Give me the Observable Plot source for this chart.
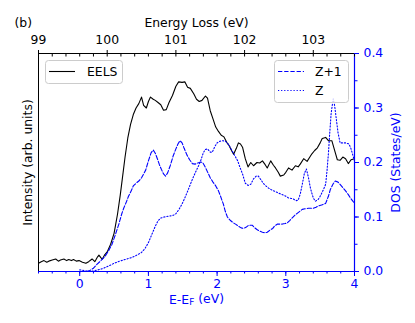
<!DOCTYPE html>
<html><head><meta charset="utf-8">
<script src="https://cdn.jsdelivr.net/npm/d3@7"></script>
<script src="https://cdn.jsdelivr.net/npm/@observablehq/plot@0.6"></script>
<style>body{margin:0;background:#fff}</style>
</head><body><div id="chart"></div>
<script>
// ---- data ----
const eelsE = [-0.60,-0.56,-0.52,-0.48,-0.45,-0.40,-0.35,-0.31,-0.28,-0.23,-0.19,-0.16,-0.12,-0.09,-0.05,-0.01,0.04,0.09,0.13,0.18,0.22,0.26,0.28,0.31,0.33,0.36,0.40,0.45,0.50,0.55,0.59,0.62,0.66,0.70,0.74,0.78,0.82,0.86,0.90,0.93,0.97,1.00,1.03,1.07,1.10,1.14,1.18,1.22,1.26,1.30,1.35,1.40,1.44,1.49,1.53,1.57,1.61,1.66,1.70,1.74,1.78,1.83,1.86,1.90,1.94,1.98,2.02,2.06,2.10,2.14,2.17,2.21,2.24,2.28,2.31,2.34,2.37,2.41,2.45,2.49,2.53,2.58,2.62,2.66,2.70,2.73,2.78,2.82,2.85,2.89,2.92,2.97,3.00,3.04,3.09,3.14,3.18,3.21,3.26,3.31,3.35,3.38,3.42,3.46,3.50,3.53,3.58,3.62,3.67,3.72,3.75,3.79,3.83,3.87,3.91,3.95,4.00];
const eelsI = [0.015,0.018,0.020,0.017,0.019,0.021,0.023,0.019,0.021,0.023,0.020,0.022,0.020,0.022,0.019,0.020,0.017,0.015,0.018,0.023,0.018,0.027,0.030,0.025,0.023,0.030,0.036,0.050,0.070,0.105,0.140,0.170,0.210,0.245,0.270,0.288,0.300,0.308,0.320,0.305,0.300,0.312,0.320,0.316,0.314,0.310,0.306,0.296,0.297,0.310,0.323,0.340,0.348,0.347,0.348,0.338,0.336,0.326,0.316,0.312,0.314,0.322,0.318,0.295,0.280,0.265,0.257,0.250,0.247,0.237,0.232,0.222,0.215,0.226,0.236,0.234,0.228,0.207,0.192,0.200,0.194,0.200,0.199,0.203,0.196,0.190,0.203,0.195,0.190,0.182,0.175,0.177,0.182,0.190,0.186,0.194,0.192,0.197,0.207,0.202,0.210,0.216,0.222,0.227,0.236,0.244,0.246,0.240,0.240,0.218,0.205,0.204,0.210,0.207,0.198,0.205,0.207];

const zp1E = [0.10,0.15,0.20,0.25,0.30,0.37,0.42,0.47,0.52,0.57,0.61,0.64,0.68,0.71,0.75,0.78,0.82,0.86,0.90,0.93,0.96,1.00,1.04,1.07,1.10,1.13,1.16,1.19,1.22,1.25,1.28,1.32,1.36,1.40,1.43,1.46,1.49,1.52,1.56,1.60,1.64,1.68,1.72,1.76,1.79,1.83,1.87,1.90,1.94,1.98,2.02,2.05,2.09,2.12,2.15,2.19,2.24,2.28,2.31,2.35,2.38,2.42,2.46,2.51,2.55,2.58,2.62,2.66,2.70,2.73,2.77,2.81,2.84,2.88,2.92,2.95,2.99,3.02,3.06,3.09,3.13,3.17,3.21,3.24,3.28,3.33,3.37,3.40,3.44,3.47,3.52,3.58,3.62,3.65,3.69,3.72,3.76,3.79,3.83,3.87,3.91,3.94,3.97,4.00];
const zp1D = [0.000,0.002,0.006,0.013,0.019,0.028,0.038,0.050,0.068,0.087,0.105,0.116,0.128,0.138,0.148,0.157,0.162,0.166,0.172,0.179,0.186,0.203,0.218,0.223,0.217,0.207,0.196,0.187,0.179,0.175,0.181,0.195,0.212,0.225,0.234,0.240,0.236,0.226,0.214,0.205,0.198,0.197,0.199,0.201,0.200,0.191,0.180,0.172,0.164,0.157,0.148,0.138,0.124,0.110,0.100,0.094,0.089,0.086,0.083,0.080,0.079,0.081,0.085,0.085,0.080,0.077,0.074,0.072,0.071,0.072,0.076,0.079,0.084,0.087,0.087,0.087,0.088,0.089,0.094,0.098,0.103,0.107,0.111,0.114,0.115,0.116,0.116,0.116,0.118,0.120,0.122,0.125,0.138,0.151,0.161,0.166,0.164,0.160,0.154,0.148,0.141,0.135,0.130,0.125];

const zE = [0.00,0.10,0.20,0.30,0.35,0.42,0.50,0.58,0.66,0.74,0.80,0.86,0.90,0.95,1.00,1.05,1.10,1.14,1.18,1.23,1.27,1.32,1.36,1.40,1.45,1.49,1.53,1.58,1.62,1.66,1.70,1.73,1.76,1.80,1.83,1.86,1.90,1.93,1.97,2.00,2.04,2.08,2.12,2.15,2.19,2.22,2.26,2.30,2.33,2.37,2.41,2.45,2.49,2.53,2.57,2.60,2.64,2.67,2.71,2.75,2.79,2.82,2.86,2.89,2.93,2.97,3.00,3.04,3.08,3.11,3.15,3.18,3.21,3.24,3.27,3.30,3.33,3.36,3.40,3.43,3.47,3.50,3.54,3.58,3.60,3.62,3.64,3.66,3.69,3.71,3.73,3.76,3.79,3.83,3.87,3.92,3.95,3.97,4.00];
const zD = [0.003,0.001,0.001,0.004,0.006,0.010,0.015,0.019,0.022,0.025,0.028,0.032,0.035,0.042,0.053,0.068,0.083,0.093,0.098,0.100,0.101,0.102,0.103,0.106,0.115,0.124,0.135,0.150,0.163,0.175,0.186,0.194,0.203,0.218,0.224,0.225,0.219,0.219,0.230,0.236,0.239,0.240,0.239,0.236,0.228,0.221,0.212,0.203,0.192,0.179,0.162,0.158,0.160,0.170,0.175,0.175,0.168,0.162,0.157,0.153,0.150,0.148,0.146,0.144,0.142,0.140,0.138,0.135,0.134,0.133,0.130,0.131,0.142,0.160,0.180,0.188,0.172,0.152,0.135,0.129,0.132,0.138,0.148,0.160,0.185,0.216,0.255,0.290,0.317,0.305,0.285,0.255,0.236,0.236,0.236,0.234,0.225,0.216,0.203];

const xTickLabels = [0, 1, 2, 3, 4];
const lossTickLabels = [99, 100, 101, 102, 103];
const lossOffset = 99.6;          // Energy Loss = E-EF + 99.6
const dosTickLabels = [0.0, 0.1, 0.2, 0.3, 0.4];
const seriesNames = ["EELS", "Z+1", "Z"];

// ---- tables ----
const eels = eelsE.map((e, i) => ({E: e, v: eelsI[i]}));
const zp1 = zp1E.map((e, i) => ({E: e, v: zp1D[i]}));
const zz = zE.map((e, i) => ({E: e, v: zD[i]}));
const minorX = d3.range(-0.6, 4.0001, 0.2);
const minorY = d3.range(0, 0.4001, 0.05);

const BLUE = "#0000ff";
const FS = 12.4;
const FONT = "'DejaVu Sans', sans-serif";
const chart = Plot.plot({
  width: 415, height: 323,
  marginLeft: 38, marginRight: 61, marginTop: 53, marginBottom: 52,
  style: {fontFamily: FONT, fontSize: FS + "px", background: "white"},
  x: {domain: [-0.6, 4], label: null, axis: null},
  y: {domain: [0, 0.4], label: null, axis: null},
  marks: [
    Plot.line(eels, {x: "E", y: "v", stroke: "black", strokeWidth: 1.1}),
    Plot.line(zp1, {x: "E", y: "v", stroke: BLUE, strokeWidth: 1.1, strokeDasharray: "4.3,1.9"}),
    Plot.line(zz, {x: "E", y: "v", stroke: BLUE, strokeWidth: 1.1, strokeDasharray: "1.2,1.9"}),
    // spines
    Plot.ruleY([0.4], {stroke: "black", strokeWidth: 1}),
    Plot.ruleX([-0.6], {stroke: "black", strokeWidth: 1}),
    Plot.ruleY([0], {stroke: BLUE, strokeWidth: 1}),
    Plot.ruleX([4], {stroke: BLUE, strokeWidth: 1.2}),
    // bottom axis
    Plot.axisX(xTickLabels, {anchor: "bottom", tickSize: 5, tickPadding: 3, color: BLUE, label: null, fontSize: FS, tickFormat: d => String(d)}),
    Plot.axisX(minorX, {anchor: "bottom", tickSize: 2.5, color: BLUE, label: null, tickFormat: () => ""}),
    // top axis (energy loss)
    Plot.axisX(lossTickLabels.map(v => v - lossOffset), {anchor: "top", tickSize: 4, tickPadding: 6, color: "black", label: null, fontSize: FS, tickFormat: d => String(Math.round(d + lossOffset))}),
    Plot.axisX(minorX, {anchor: "top", tickSize: -2.5, color: "black", label: null, tickFormat: () => ""}),
    // right axis (DOS)
    Plot.axisY(dosTickLabels, {anchor: "right", tickSize: 4, tickPadding: 5, color: BLUE, label: null, fontSize: FS, tickFormat: d3.format(".1f")}),
    Plot.axisY(minorY, {anchor: "right", tickSize: 2.5, color: BLUE, label: null, tickFormat: () => ""}),
    // labels
    Plot.text(["Intensity (arb. units)"], {text: d => d, frameAnchor: "left", dx: -10, rotate: -90, textAnchor: "middle", lineAnchor: "middle", fill: "black", fontSize: FS}),
    Plot.text(["DOS (States/eV)"], {text: d => d, frameAnchor: "right", dx: 42, rotate: -90, textAnchor: "middle", lineAnchor: "middle", fill: BLUE, fontSize: FS}),
    Plot.text(["Energy Loss (eV)"], {text: d => d, frameAnchor: "top", dy: -27, textAnchor: "middle", lineAnchor: "bottom", fill: "black", fontSize: FS}),
    Plot.text(["(b)"], {text: d => d, frameAnchor: "top-left", dx: -24, dy: -27, textAnchor: "start", lineAnchor: "bottom", fill: "black", fontSize: FS}),
    Plot.text(["E-EF (eV)"], {text: d => d, frameAnchor: "bottom", dy: 32, textAnchor: "middle", lineAnchor: "bottom", fill: BLUE, fontSize: FS})
  ]
});
document.getElementById("chart").appendChild(chart);

// subscript F in the x label
const svg = d3.select(chart);
svg.selectAll("text").filter(function() { return this.textContent === "E-EF (eV)"; }).each(function() {
  const t = d3.select(this);
  t.text(null);
  t.append("tspan").text("E-E");
  t.append("tspan").attr("font-size", "72%").attr("dy", "0.22em").text("F");
  t.append("tspan").attr("dy", "-0.22em").text(" (eV)");
});

// legends
function legend(x, y, w, h, rows) {
  const g = svg.append("g").attr("font-family", FONT).attr("font-size", FS + "px").attr("text-anchor", "start");
  g.append("rect").attr("x", x + 0.5).attr("y", y + 0.5).attr("width", w).attr("height", h)
    .attr("rx", 3).attr("fill", "white").attr("fill-opacity", 0.8).attr("stroke", "#cccccc").attr("stroke-width", 1);
  rows.forEach((r, i) => {
    const ly = y + 11.5 + i * 19;
    g.append("line").attr("x1", x + 4).attr("x2", x + 30).attr("y1", ly).attr("y2", ly)
      .attr("stroke", r.color).attr("stroke-width", 1.1).attr("stroke-dasharray", r.dash || null);
    g.append("text").attr("x", x + r.tx).attr("y", ly + 4.5).attr("fill", "black").attr("text-anchor", "start").text(r.name);
  });
}
legend(45, 60, 77, 23, [{name: seriesNames[0], color: "black", tx: 42}]);
legend(274, 60, 74, 42, [
  {name: seriesNames[1], color: BLUE, dash: "4.3,1.9", tx: 41},
  {name: seriesNames[2], color: BLUE, dash: "1.2,1.9", tx: 41}
]);
</script>
</body></html>
